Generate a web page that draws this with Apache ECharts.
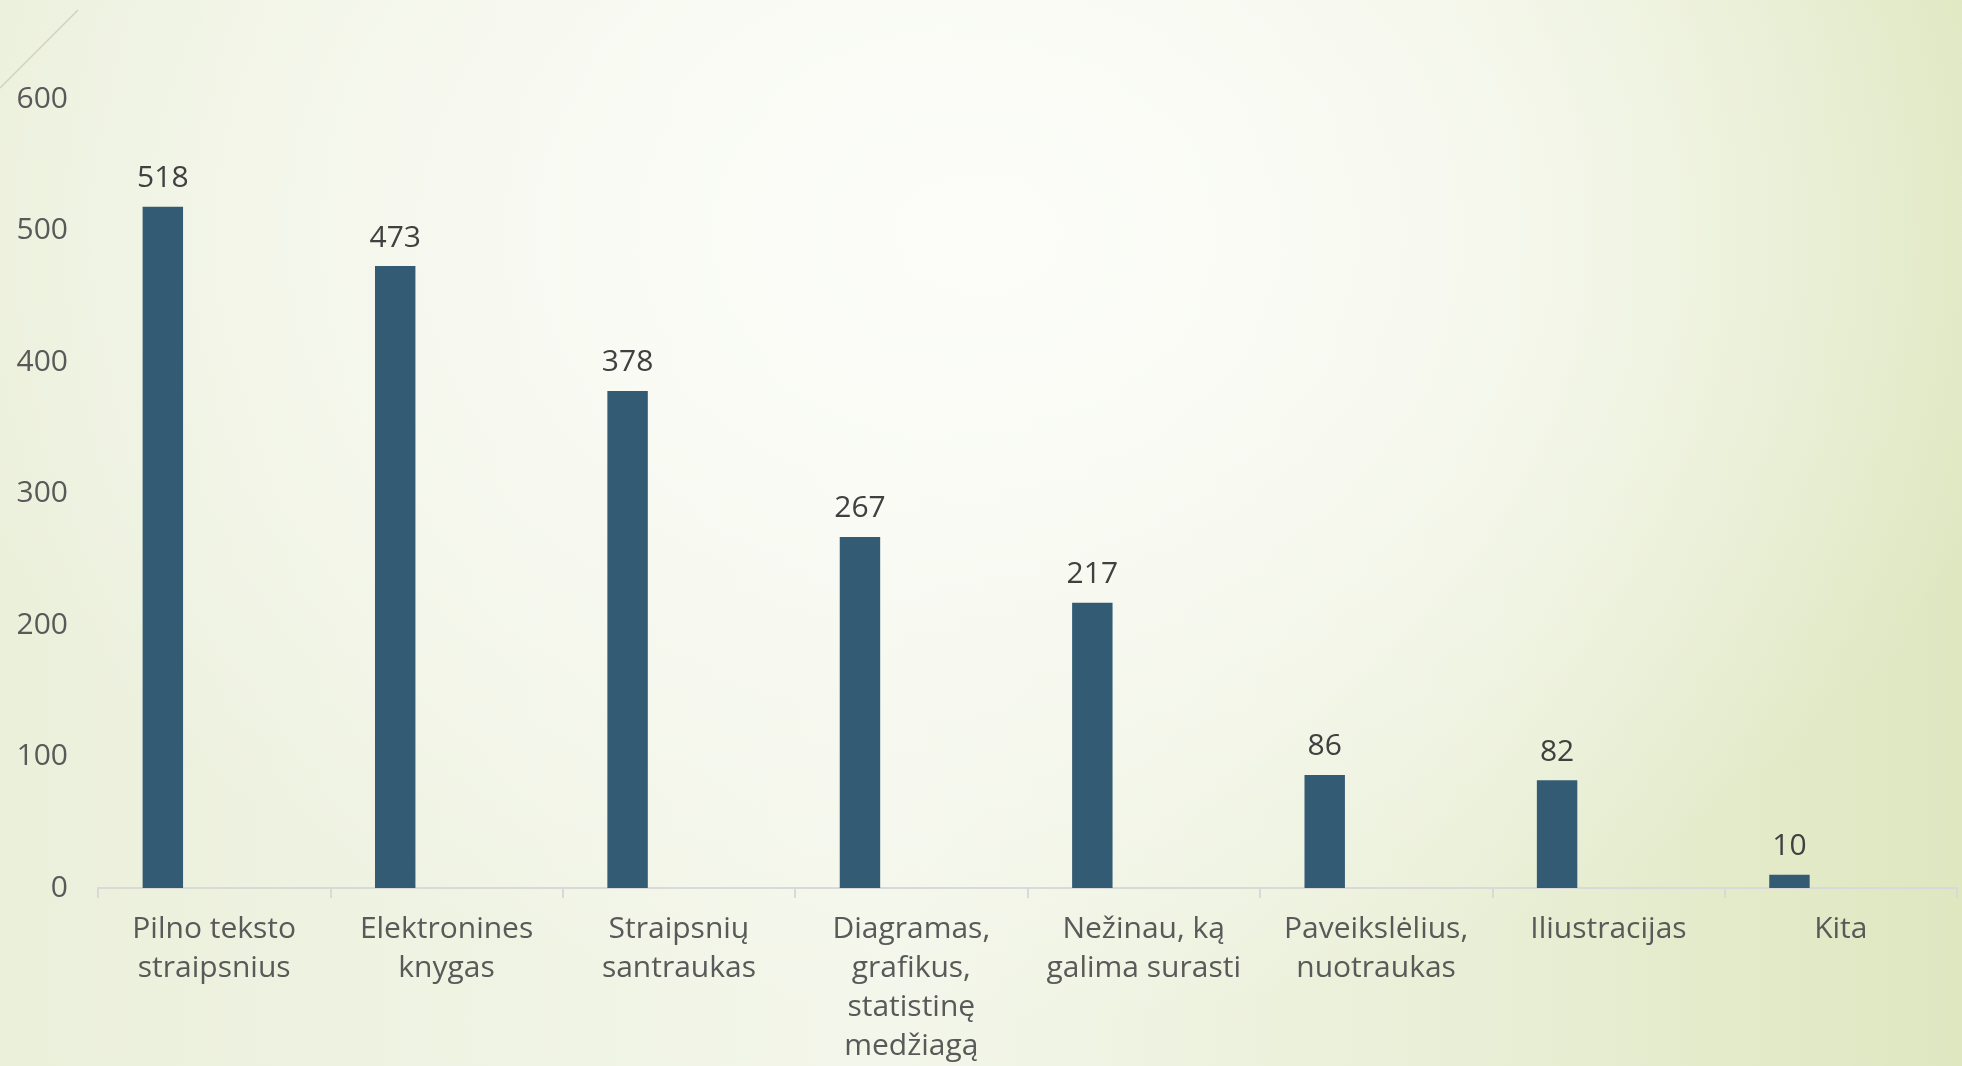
<!DOCTYPE html>
<html>
<head>
<meta charset="utf-8">
<script src="https://cdn.jsdelivr.net/npm/echarts@6.0.0/dist/echarts.min.js"></script>
<style>
  html, body { margin: 0; padding: 0; }
  /* slide-like backdrop: pale green edges, near-white glow up top */
  #chart {
    width: 1962px; height: 1066px;
    background:
      radial-gradient(ellipse 55% 75% at 50% 22%, rgba(252,253,249,1) 0%, rgba(250,251,245,0.85) 40%, rgba(250,251,245,0) 100%),
      linear-gradient(to right, #ebf0db 0%, #f3f6ea 45%, #e9efd6 75%, #dee7c0 100%);
  }
</style>
</head>
<body>
<div id="chart"></div>
<script>
"use strict";

const CATEGORIES = [
  "Pilno teksto straipsnius",
  "Elektronines knygas",
  "Straipsnių santraukas",
  "Diagramas, grafikus, statistinę medžiagą",
  "Nežinau, ką galima surasti",
  "Paveikslėlius, nuotraukas",
  "Iliustracijas",
  "Kita",
];
// wrapped the way the slide wraps them
const TICK_LABELS = [
  "Pilno teksto\nstraipsnius",
  "Elektronines\nknygas",
  "Straipsnių\nsantraukas",
  "Diagramas,\ngrafikus,\nstatistinę\nmedžiagą",
  "Nežinau, ką\ngalima surasti",
  "Paveikslėlius,\nnuotraukas",
  "Iliustracijas",
  "Kita",
];
const VALUES = [518, 473, 378, 267, 217, 86, 82, 10];
const Y_MIN = 0, Y_MAX = 600, Y_STEP = 100;

const FONT = "'Century Gothic', 'Open Sans', sans-serif";
const LABEL = "#595959", VALUE_INK = "#404040", BAR = "#335b74", AXIS = "#d9d9d9";

// The source chart had three series slots (only the first filled), which is
// why each bar sits left of its category centre. Keep two empty slots.
const emptySlot = (name) => ({ name, type: "bar", data: [], silent: true });

const chart = echarts.init(document.getElementById("chart"));
chart.setOption({
  animation: false,
  backgroundColor: "transparent",
  textStyle: { fontFamily: FONT },
  grid: { left: 98, right: 5, top: 99, bottom: 178, containLabel: false, outerBoundsMode: "none" },
  xAxis: {
    type: "category",
    data: CATEGORIES,
    axisLine: { lineStyle: { color: AXIS, width: 2 } },
    axisTick: { show: true, length: 10, lineStyle: { color: AXIS, width: 2 } },
    axisLabel: {
      interval: 0,
      margin: 22,
      color: LABEL,
      fontFamily: FONT,
      fontSize: 30,
      lineHeight: 39,
      formatter: (v, i) => TICK_LABELS[i],
    },
  },
  yAxis: {
    type: "value",
    min: Y_MIN, max: Y_MAX, interval: Y_STEP,
    axisLine: { show: false },
    axisTick: { show: false },
    splitLine: { show: false },
    axisLabel: { margin: 30, color: LABEL, fontFamily: FONT, fontSize: 30 },
  },
  series: [
    {
      name: "Series 1",
      type: "bar",
      data: VALUES,
      barGap: "27%",
      barCategoryGap: "38.4%",
      itemStyle: { color: BAR },
      label: {
        show: true,
        position: "top",
        distance: 13,
        color: VALUE_INK,
        fontFamily: FONT,
        fontSize: 30,
      },
    },
    emptySlot("Series 2"),
    emptySlot("Series 3"),
  ],
  graphic: [{
    type: "line",
    shape: { x1: 0, y1: 88, x2: 78, y2: 10 },
    style: { stroke: "#cdd3bf", lineWidth: 1.5 },
    silent: true,
  }],
});
</script>
</body>
</html>
